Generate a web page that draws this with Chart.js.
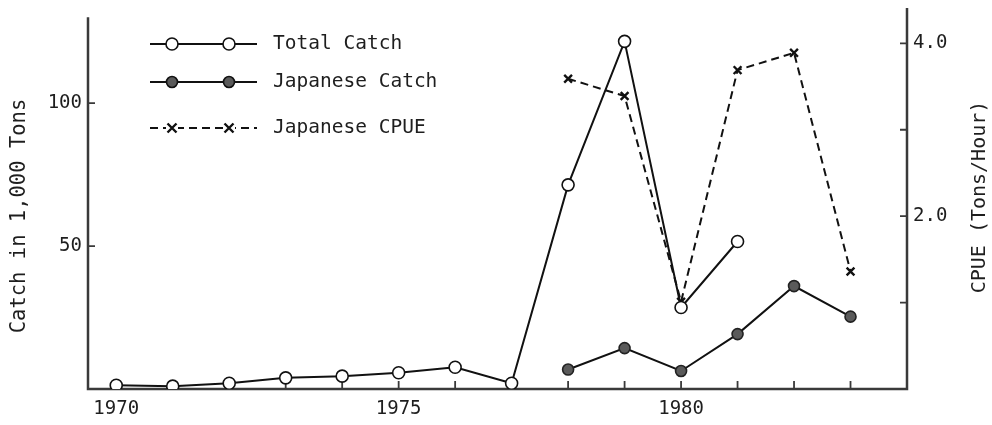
<!DOCTYPE html>
<html>
<head>
<meta charset="utf-8">
<script src="https://cdn.jsdelivr.net/npm/chart.js@4/dist/chart.umd.min.js"></script>
<style>
    html, body { margin: 0; padding: 0; background: #fff; }
    #wrap { width: 992px; height: 425px; }
</style>
</head>
<body>
<div id="wrap"><canvas id="catchChart" width="992" height="425"></canvas></div>
<script>
    'use strict';

    // values
    var years = [1970, 1971, 1972, 1973, 1974, 1975, 1976, 1977, 1978, 1979, 1980, 1981, 1982, 1983];
    var totalCatch = [1.3, 1.0, 2.0, 3.9, 4.5, 5.7, 7.6, 2.0, 71.4, 121.6, 28.5, 51.6, null, null];
    var japaneseCatch = [null, null, null, null, null, null, null, null, 6.8, 14.3, 6.3, 19.2, 36.0, 25.3];
    var japaneseCpue = [null, null, null, null, null, null, null, null, 3.59, 3.39, 1.01, 3.69, 3.89, 1.36];

    var xTickLabels = [1970, 1975, 1980];
    var leftTicks = [50, 100];
    var rightTicks = [1, 2, 3, 4];
    var rightTickLabels = [2, 4];

    var FONT = '"DejaVu Sans Mono", "Liberation Mono", monospace';
    var INK = '#1e1e1e';

    function pairs(values) {
        return years.map(function (yr, i) {
            return {x: yr, y: values[i]};
        });
    }

    function noPadding(scale) {
        scale.paddingTop = 0;
        scale.paddingBottom = 0;
        scale.paddingLeft = 0;
        scale.paddingRight = 0;
    }

    // inward tick marks, axis lines and the rotated axis titles
    var axesPlugin = {
        id: 'axesPlugin',
        beforeDatasetsDraw: function (chart) {
            var ctx = chart.ctx;
            var area = chart.chartArea;
            var x = chart.scales.x, yl = chart.scales.y, yr = chart.scales.y2;
            ctx.save();
            ctx.strokeStyle = '#3a3a3a';
            ctx.lineWidth = 2.5;
            ctx.beginPath();
            ctx.moveTo(area.left, yl.getPixelForValue(130));
            ctx.lineTo(area.left, area.bottom);
            ctx.lineTo(area.right, area.bottom);
            ctx.lineTo(area.right, area.top);
            ctx.stroke();

            ctx.lineWidth = 1.8;
            ctx.beginPath();
            years.forEach(function (yr) {
                var px = x.getPixelForValue(yr);
                ctx.moveTo(px, area.bottom);
                ctx.lineTo(px, area.bottom - 8);
            });
            leftTicks.forEach(function (v) {
                var py = yl.getPixelForValue(v);
                ctx.moveTo(area.left, py);
                ctx.lineTo(area.left + 7, py);
            });
            rightTicks.forEach(function (v) {
                var py = yr.getPixelForValue(v);
                ctx.moveTo(area.right, py);
                ctx.lineTo(area.right - 7, py);
            });
            ctx.stroke();

            ctx.fillStyle = INK;
            ctx.font = '20.5px ' + FONT;
            ctx.textAlign = 'center';
            ctx.textBaseline = 'middle';
            ctx.translate(20, 216);
            ctx.rotate(-Math.PI / 2);
            ctx.fillText('Catch in 1,000 Tons', 0, 0);
            ctx.restore();

            ctx.save();
            ctx.fillStyle = INK;
            ctx.font = '20px ' + FONT;
            ctx.textAlign = 'center';
            ctx.textBaseline = 'middle';
            ctx.translate(980, 197);
            ctx.rotate(-Math.PI / 2);
            ctx.fillText('CPUE (Tons/Hour)', 0, 0);
            ctx.restore();
        }
    };

    // legend with line - marker - line - marker - line samples
    var legendPlugin = {
        id: 'legendPlugin',
        afterDraw: function (chart) {
            var ctx = chart.ctx;
            var rows = [44, 82, 128];
            ctx.save();
            chart.data.datasets.forEach(function (ds, i) {
                var y = rows[i];
                ctx.strokeStyle = ds.borderColor;
                ctx.lineWidth = 2;
                ctx.setLineDash(ds.borderDash || []);
                ctx.beginPath();
                ctx.moveTo(150, y);
                ctx.lineTo(257, y);
                ctx.stroke();
                ctx.setLineDash([]);
                [172, 229].forEach(function (mx) {
                    ctx.beginPath();
                    if (ds.pointStyle === 'crossRot') {
                        ctx.fillStyle = '#fff';
                        ctx.fillRect(mx - 6, y - 6, 12, 12);
                        ctx.lineWidth = 2.4;
                        ctx.moveTo(mx - 4.5, y - 4.5);
                        ctx.lineTo(mx + 4.5, y + 4.5);
                        ctx.moveTo(mx + 4.5, y - 4.5);
                        ctx.lineTo(mx - 4.5, y + 4.5);
                        ctx.stroke();
                    } else {
                        ctx.lineWidth = 1.6;
                        ctx.fillStyle = ds.pointBackgroundColor;
                        ctx.arc(mx, y, ds.pointRadius, 0, Math.PI * 2);
                        ctx.fill();
                        ctx.stroke();
                    }
                });
                ctx.fillStyle = INK;
                ctx.font = '19.5px ' + FONT;
                ctx.textAlign = 'left';
                ctx.textBaseline = 'middle';
                ctx.fillText(ds.label, 273, y);
            });
            ctx.restore();
        }
    };

    var ctx = document.getElementById('catchChart').getContext('2d');
    new Chart(ctx, {
        type: 'line',
        data: {
            datasets: [
                {
                    label: 'Total Catch',
                    data: pairs(totalCatch),
                    yAxisID: 'y',
                    borderColor: '#111',
                    borderWidth: 2,
                    pointStyle: 'circle',
                    pointRadius: 6,
                    pointBorderWidth: 1.6,
                    pointBackgroundColor: '#fff',
                    pointBorderColor: '#111',
                    order: 1,
                },
                {
                    label: 'Japanese Catch',
                    data: pairs(japaneseCatch),
                    yAxisID: 'y',
                    borderColor: '#111',
                    borderWidth: 2,
                    pointStyle: 'circle',
                    pointRadius: 5.5,
                    pointBorderWidth: 1.6,
                    pointBackgroundColor: '#5a5a5a',
                    pointBorderColor: '#222',
                    order: 2,
                },
                {
                    label: 'Japanese CPUE',
                    data: pairs(japaneseCpue),
                    yAxisID: 'y2',
                    borderColor: '#111',
                    borderWidth: 2,
                    borderDash: [8, 5],
                    pointStyle: 'crossRot',
                    pointRadius: 5.5,
                    pointBorderWidth: 2.4,
                    pointBorderColor: '#111',
                    order: 3,
                }
            ]
        },
        options: {
            responsive: false,
            animation: false,
            spanGaps: false,
            layout: {padding: {top: 5, left: 0, right: 0, bottom: 0}},
            plugins: {
                legend: {display: false},
                tooltip: {enabled: false}
            },
            scales: {
                x: {
                    type: 'linear',
                    min: 1969.5,
                    max: 1984,
                    grid: {display: false, drawTicks: false},
                    border: {display: false},
                    afterBuildTicks: function (scale) {
                        scale.ticks = years.map(function (v) { return {value: v}; });
                    },
                    afterFit: function (scale) {
                        scale.height = 36;
                        noPadding(scale);
                    },
                    ticks: {
                        autoSkip: false,
                        maxRotation: 0,
                        padding: 9,
                        color: INK,
                        font: {family: FONT, size: 19},
                        callback: function (v) {
                            return xTickLabels.indexOf(v) >= 0 ? String(v) : '';
                        }
                    }
                },
                y: {
                    position: 'left',
                    min: 0,
                    max: 133.3,
                    grid: {display: false, drawTicks: false},
                    border: {display: false},
                    afterBuildTicks: function (scale) {
                        scale.ticks = leftTicks.map(function (v) { return {value: v}; });
                    },
                    afterFit: function (scale) {
                        scale.width = 88;
                        noPadding(scale);
                    },
                    ticks: {
                        padding: 6,
                        color: INK,
                        font: {family: FONT, size: 19}
                    }
                },
                y2: {
                    position: 'right',
                    min: 0,
                    max: 4.41,
                    grid: {display: false, drawTicks: false},
                    border: {display: false},
                    afterBuildTicks: function (scale) {
                        scale.ticks = rightTicks.map(function (v) { return {value: v}; });
                    },
                    afterFit: function (scale) {
                        scale.width = 85;
                        noPadding(scale);
                    },
                    ticks: {
                        padding: 6,
                        color: INK,
                        font: {family: FONT, size: 19},
                        callback: function (v) {
                            return rightTickLabels.indexOf(v) >= 0 ? v.toFixed(1) : '';
                        }
                    }
                }
            }
        },
        plugins: [axesPlugin, legendPlugin]
    });
</script>
</body>
</html>
